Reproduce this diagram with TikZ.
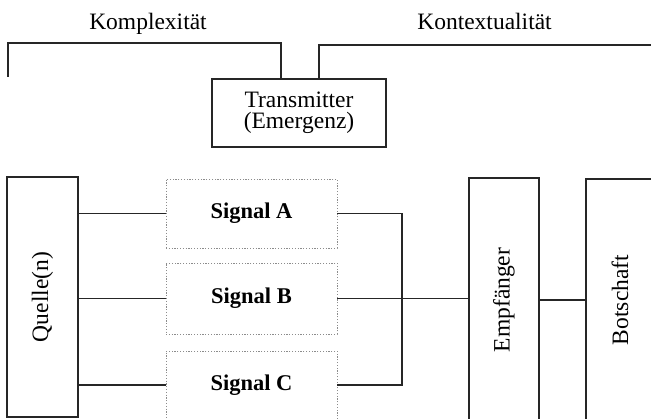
\documentclass[tikz,border=0pt]{standalone}
\usepackage{fontspec}
\setmainfont{Liberation Serif}
\begin{document}
\begin{tikzpicture}[x=1pt,y=-1pt,
  line/.style={line width=1.1pt, draw=black!85},
  box/.style={line, rectangle, inner sep=0pt, align=center},
  sigbox/.style={rectangle, inner sep=0pt, draw=black!45, line width=0.8pt,
     dash pattern=on 1.2pt off 1.6pt, minimum width=171pt},
  txt/.style={font=\fontsize{23.5}{21.5}\selectfont},
  sigtxt/.style={font=\fontsize{22.5}{24}\selectfont\bfseries}
]
\clip (0,0) rectangle (651,419);
\fill[white] (0,0) rectangle (651,419);

% labels
\node[txt, anchor=base] (komp) at (148,29.5) {Komplexität};
\node[txt, anchor=base] (kont) at (484.5,29.5) {Kontextualität};

% transmitter
\node[box, txt, minimum width=174pt, minimum height=68pt] (trans) at (299,113)
  {Transmitter\\(Emergenz)};

% bracket lines
\coordinate (kl) at (8,77);
\coordinate (kr) at (660,45);
\draw[line] (kl) -- (8,43) -| ([xshift=-18pt]trans.north);
\draw[line] ([xshift=20pt]trans.north) |- (kr);

% sources and signals
\node[box, txt, minimum width=71pt, minimum height=240pt] (quelle) at (42.5,297)
  {\rotatebox{90}{Quelle(n)}};
\node[sigbox, sigtxt, minimum height=69pt] (sigA) at (251.5,213.5) {Signal A};
\node[sigbox, sigtxt, minimum height=71pt] (sigB) at (251.5,298.5) {Signal B};
\node[sigbox, sigtxt, minimum height=68pt] (sigC) at (251.5,385) {Signal C};

% receiver and message
\node[box, txt, minimum width=70pt, minimum height=244pt] (emp) at (504,300)
  {\rotatebox{90}{Empfänger}};
\node[box, txt, minimum width=68pt, minimum height=242pt] (bot) at (620,300)
  {\rotatebox{90}{Botschaft}};

% connectors
\draw[line] (quelle.east |- sigA.west) -- (sigA.west);
\draw[line] (quelle.east |- sigB.west) -- (sigB.west);
\draw[line] (quelle.east |- sigC.west) -- (sigC.west);
\coordinate (j) at (402,298.5);
\draw[line] (sigA.east) -| (j);
\draw[line] (sigC.east) -| (j);
\draw[line] (sigB.east) -- (sigB.east -| emp.west);
\draw[line] (emp.east) -- (bot.west);
\end{tikzpicture}
\end{document}
